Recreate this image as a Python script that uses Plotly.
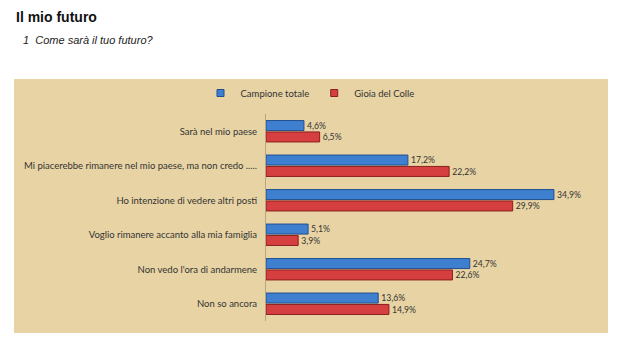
import plotly.graph_objects as go

categories = [
    "Sarà nel mio paese",
    "Mi piacerebbe rimanere nel mio paese, ma non credo .....",
    "Ho intenzione di vedere altri posti",
    "Voglio rimanere accanto alla mia famiglia",
    "Non vedo l'ora di andarmene",
    "Non so ancora",
]
campione_totale = [4.6, 17.2, 34.9, 5.1, 24.7, 13.6]
gioia_del_colle = [6.5, 22.2, 29.9, 3.9, 22.6, 14.9]
series_names = ["Campione totale", "Gioia del Colle"]

W, H = 621, 344
L, R, T, B = 266, 25, 114, 23
PW, PH = W - L - R, H - T - B


def px(x):
    return (x - L) / PW


def py(y):
    return (H - B - y) / PH


colors = ["#3F7FD0", "#D63F3F"]
edges = ["#1F4F8F", "#8A1F1F"]
values = [campione_totale, gioia_del_colle]

fig = go.Figure()
for name, vals, c, e in zip(series_names, values, colors, edges):
    fig.add_trace(go.Bar(
        y=categories, x=vals, name=name, orientation="h", showlegend=False,
        marker=dict(color=c, line=dict(color=e, width=1)),
        texttemplate="%{x:.1f}%", textposition="outside",
        textfont=dict(size=9.5, color="#333333", family="Lato"), cliponaxis=False,
    ))
# legend entries with small square symbols
for name, c, e in zip(series_names, colors, edges):
    fig.add_trace(go.Scatter(
        x=[None], y=[None], mode="markers", name=name,
        marker=dict(symbol="square", size=7, color=c, line=dict(color=e, width=1)),
    ))

fig.update_layout(
    width=W, height=H,
    margin=dict(l=L, r=R, t=T, b=B),
    paper_bgcolor="white",
    plot_bgcolor="rgba(0,0,0,0)",
    separators=",.",
    barmode="group",
    bargap=0.34,
    bargroupgap=0.12,
    showlegend=True,
    legend=dict(
        orientation="h", x=px(310), xanchor="center", y=py(93), yanchor="middle",
        font=dict(size=9.5, color="#333333", family="Lato"),
        bgcolor="rgba(0,0,0,0)", itemwidth=30, tracegroupgap=0,
    ),
    xaxis=dict(range=[0, 40], showgrid=False, showticklabels=False, zeroline=False,
               showline=False, ticks=""),
    yaxis=dict(autorange="reversed", showgrid=False, showline=True,
               linecolor="#B8A67E", linewidth=1, ticks="",
               tickfont=dict(size=9.5, color="#333333", family="Lato"),
               ticklabelstandoff=6),
    shapes=[
        dict(type="rect", xref="paper", yref="paper",
             x0=px(14), x1=px(608), y0=py(333), y1=py(79),
             fillcolor="#E8D3A4", line=dict(width=0), layer="below"),
    ],
    annotations=[
        dict(text="<b>Il mio futuro</b>", xref="paper", yref="paper",
             x=px(14), y=py(17), xanchor="left", yanchor="middle", showarrow=False,
             font=dict(size=14, color="#111111", family="Liberation Sans")),
        dict(text="<i>1  Come sarà il tuo futuro?</i>", xref="paper", yref="paper",
             x=px(21), y=py(40), xanchor="left", yanchor="middle", showarrow=False,
             font=dict(size=11, color="#222222", family="Liberation Sans")),
    ],
)

fig.write_html("out.html")
